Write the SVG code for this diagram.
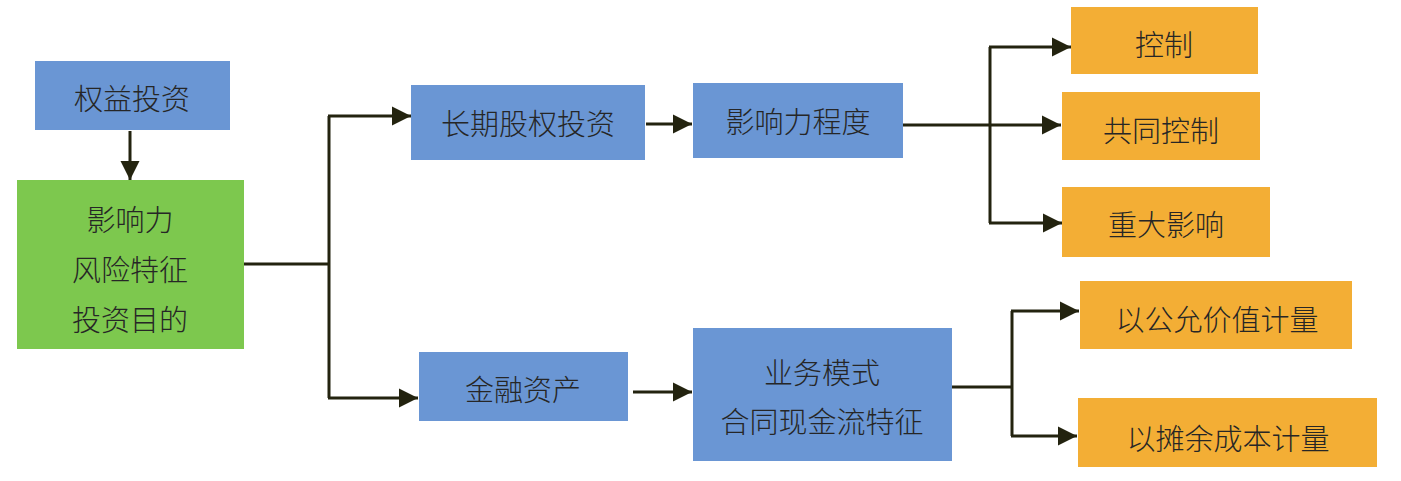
<svg xmlns="http://www.w3.org/2000/svg" width="1401" height="481" viewBox="0 0 1401 481">
<defs>
<style>
.blue{fill:#6A96D4}
.green{fill:#7DC84E}
.orange{fill:#F3AE35}
text{font-family:"Noto Sans CJK SC","Noto Sans",sans-serif;font-size:29px;font-weight:300;fill:#262626;text-anchor:middle;dominant-baseline:central}
.conn{fill:none;stroke:#23230f;stroke-width:3}
</style>
<marker id="ah" markerUnits="userSpaceOnUse" markerWidth="21" markerHeight="21" viewBox="0 0 21 21" refX="20" refY="10.5" orient="auto">
<path d="M1,1 L20,10.5 L1,20 Z" fill="#23230f"/>
</marker>
</defs>
<rect width="1401" height="481" fill="#ffffff"/>
<g id="connectors">
<line class="conn" x1="130" y1="131" x2="130" y2="180" marker-end="url(#ah)"/>
<polyline class="conn" points="244,264 329,264"/>
<polyline class="conn" points="329,116 329,398"/>
<line class="conn" x1="328" y1="116" x2="411" y2="116" marker-end="url(#ah)"/>
<line class="conn" x1="328" y1="398" x2="418" y2="398" marker-end="url(#ah)"/>
<line class="conn" x1="646" y1="124" x2="692" y2="124" marker-end="url(#ah)"/>
<line class="conn" x1="903" y1="125" x2="1061" y2="125" marker-end="url(#ah)"/>
<polyline class="conn" points="990,47 990,223"/>
<line class="conn" x1="989" y1="47" x2="1071" y2="47" marker-end="url(#ah)"/>
<line class="conn" x1="989" y1="223" x2="1062" y2="223" marker-end="url(#ah)"/>
<line class="conn" x1="633" y1="392" x2="692" y2="392" marker-end="url(#ah)"/>
<polyline class="conn" points="952,387 1012,387"/>
<polyline class="conn" points="1012,311 1012,436"/>
<line class="conn" x1="1011" y1="311" x2="1079" y2="311" marker-end="url(#ah)"/>
<line class="conn" x1="1011" y1="436" x2="1077" y2="436" marker-end="url(#ah)"/>
</g>
<g id="n-equity"><rect class="blue" x="35" y="61" width="195" height="69"/><text x="132" y="97">权益投资</text></g>
<g id="n-factors"><rect class="green" x="17" y="180" width="227" height="169"/><text x="130" y="218">影响力</text><text x="130" y="268">风险特征</text><text x="130" y="318">投资目的</text></g>
<g id="n-ltequity"><rect class="blue" x="411" y="85" width="234" height="75"/><text x="528" y="122">长期股权投资</text></g>
<g id="n-influence"><rect class="blue" x="693" y="83" width="210" height="75"/><text x="798" y="120">影响力程度</text></g>
<g id="n-control"><rect class="orange" x="1071" y="7" width="187" height="67"/><text x="1164" y="43">控制</text></g>
<g id="n-joint"><rect class="orange" x="1062" y="92" width="198" height="68"/><text x="1161" y="129">共同控制</text></g>
<g id="n-significant"><rect class="orange" x="1062" y="187" width="208" height="70"/><text x="1166" y="223">重大影响</text></g>
<g id="n-financial"><rect class="blue" x="419" y="352" width="209" height="69"/><text x="523" y="388">金融资产</text></g>
<g id="n-model"><rect class="blue" x="693" y="328" width="259" height="133"/><text x="822" y="371">业务模式</text><text x="822" y="420">合同现金流特征</text></g>
<g id="n-fairvalue"><rect class="orange" x="1080" y="281" width="272" height="68"/><text x="1217" y="318">以公允价值计量</text></g>
<g id="n-amortized"><rect class="orange" x="1078" y="398" width="299" height="69"/><text x="1228" y="437">以摊余成本计量</text></g>
</svg>
